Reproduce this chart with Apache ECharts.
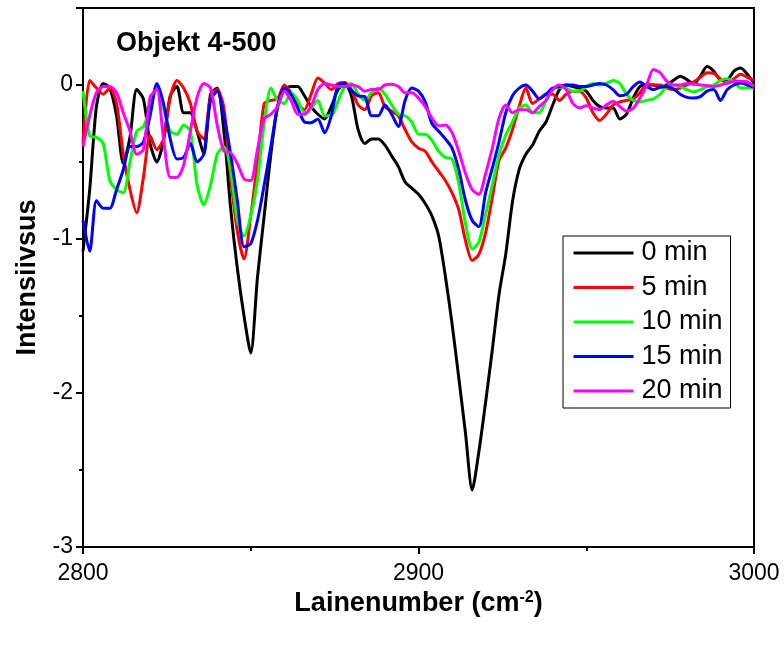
<!DOCTYPE html>
<html>
<head>
<meta charset="utf-8">
<script src="https://cdn.jsdelivr.net/npm/echarts@6/dist/echarts.min.js"></script>
<style>
  html, body { margin: 0; padding: 0; background: #fff; }
  #chart { width: 784px; height: 646px; }
</style>
</head>
<body>
<div id="chart"></div>
<script>
// wavenumber grid, cm-1
const wavenumbers = [
  2800, 2802, 2804, 2806, 2808, 2810, 2812, 2814, 2816, 2818,
  2820, 2822, 2824, 2826, 2828, 2830, 2832, 2834, 2836, 2838,
  2840, 2842, 2844, 2846, 2848, 2850, 2852, 2854, 2856, 2858,
  2860, 2862, 2864, 2866, 2868, 2870, 2872, 2874, 2876, 2878,
  2880, 2882, 2884, 2886, 2888, 2890, 2892, 2894, 2896, 2898,
  2900, 2902, 2904, 2906, 2908, 2910, 2912, 2914, 2916, 2918,
  2920, 2922, 2924, 2926, 2928, 2930, 2932, 2934, 2936, 2938,
  2940, 2942, 2944, 2946, 2948, 2950, 2952, 2954, 2956, 2958,
  2960, 2962, 2964, 2966, 2968, 2970, 2972, 2974, 2976, 2978,
  2980, 2982, 2984, 2986, 2988, 2990, 2992, 2994, 2996, 2998,
  3000
]

const min0 = [
  -1.08, -0.68, -0.14, 0.01, -0.02, -0.2, -0.51, -0.34, -0.03, -0.09,
  -0.38, -0.5, -0.36, -0.07, -0.01, -0.18, -0.18, -0.3, -0.45, -0.06,
  -0.02, -0.3, -0.8, -1.19, -1.5, -1.74, -1.25, -0.85, -0.45, -0.14,
  -0.03, -0.01, -0.01, -0.07, -0.14, -0.19, -0.22, -0.14, -0.03, 0.01,
  -0.07, -0.29, -0.38, -0.35, -0.35, -0.39, -0.46, -0.53, -0.63, -0.67,
  -0.71, -0.77, -0.85, -0.98, -1.24, -1.55, -1.9, -2.26, -2.63, -2.38,
  -2.06, -1.72, -1.36, -1.1, -0.76, -0.55, -0.45, -0.39, -0.3, -0.24,
  -0.13, -0.03, 0.0, -0.01, -0.02, -0.04, -0.1, -0.14, -0.15, -0.15,
  -0.22, -0.19, -0.085, -0.01, 0.0, 0.0, -0.015, 0.0, 0.03, 0.057,
  0.035, 0.007, 0.057, 0.12, 0.09, 0.035, 0.035, 0.09, 0.11, 0.07,
  0.013
]

const min5 = [
  -0.38, 0.03, -0.02, -0.06, -0.02, -0.12, -0.45, -0.68, -0.83, -0.6,
  -0.33, -0.42, -0.35, -0.08, 0.03, -0.02, -0.12, -0.3, -0.35, -0.08,
  -0.03, -0.15, -0.6, -0.95, -1.13, -0.85, -0.5, -0.12, -0.1, -0.09,
  0.0, -0.05, -0.12, -0.16, -0.06, 0.045, 0.013, -0.03, 0.01, 0.017,
  -0.03, -0.13, -0.16, -0.07, -0.05, -0.14, -0.17, -0.2, -0.29, -0.37,
  -0.41, -0.43, -0.5, -0.56, -0.62, -0.7, -0.81, -1.01, -1.14, -1.1,
  -0.96, -0.73, -0.49, -0.41, -0.29, -0.14, -0.02, -0.12, -0.09, -0.06,
  -0.06, -0.1, -0.06, -0.04, -0.04, -0.085, -0.18, -0.23, -0.19, -0.13,
  -0.11, -0.1, -0.09, -0.05, 0.0, 0.0, 0.0, -0.02, -0.03, -0.02,
  0.0, 0.02, 0.05, 0.08, 0.075, 0.04, 0.01, 0.04, 0.07, 0.05,
  0.03
]

const min10 = [
  -0.04, -0.33, -0.34, -0.38, -0.62, -0.68, -0.7, -0.5, -0.3, -0.27,
  -0.15, -0.02, -0.15, -0.3, -0.32, -0.26, -0.3, -0.65, -0.78, -0.65,
  -0.45, -0.4, -0.55, -0.88, -0.98, -0.85, -0.62, -0.25, -0.02, -0.1,
  -0.12, -0.05, -0.1, -0.18, -0.15, -0.1, -0.2, -0.2, -0.105, -0.01,
  0.01, -0.06, -0.1, -0.05, -0.02, -0.06, -0.13, -0.19, -0.2, -0.24,
  -0.32, -0.32, -0.36, -0.43, -0.47, -0.48, -0.64, -0.9, -1.065, -1.02,
  -0.84, -0.65, -0.455, -0.325, -0.24, -0.15, -0.13, -0.18, -0.18, -0.1,
  -0.03, -0.015, -0.02, -0.04, -0.04, -0.01, 0.01, 0.0, 0.01, 0.03,
  0.01, -0.06, -0.1, -0.11, -0.1, -0.09, -0.06, -0.01, 0.0, -0.01,
  -0.03, -0.045, -0.03, -0.01, 0.0, 0.03, 0.04, 0.02, -0.02, -0.02,
  -0.02
]

const min15 = [
  -0.88, -1.08, -0.75, -0.8, -0.8, -0.68, -0.55, -0.4, -0.4, -0.37,
  -0.2, 0.01, -0.12, -0.35, -0.48, -0.47, -0.38, -0.5, -0.45, -0.1,
  -0.04, -0.2, -0.45, -0.75, -1.05, -1.03, -0.88, -0.65, -0.4, -0.14,
  -0.02, -0.06, -0.15, -0.24, -0.245, -0.22, -0.31, -0.2, 0.0, 0.01,
  -0.035, -0.07, -0.075, -0.2, -0.2, -0.13, -0.19, -0.27, -0.1, -0.02,
  -0.04, -0.11, -0.25, -0.3, -0.35, -0.41, -0.55, -0.75, -0.88, -0.92,
  -0.7, -0.54, -0.37, -0.18, -0.07, -0.02, 0.0, -0.04, -0.09, -0.06,
  -0.02, -0.01, 0.0, 0.0, -0.01, -0.01, 0.0, 0.01, 0.0, -0.03,
  -0.07, -0.06, -0.01, 0.02, -0.01, -0.03, -0.015, -0.01, -0.025, -0.06,
  -0.08, -0.085, -0.075, -0.04, -0.03, -0.1, -0.03, 0.0, 0.013, 0.0,
  -0.015
]

const min20 = [
  -0.4, -0.2, -0.05, -0.01, -0.01, -0.05, -0.18, -0.3, -0.45, -0.42,
  -0.08, -0.03, -0.35, -0.6, -0.6, -0.52, -0.3, -0.08, 0.01, -0.02,
  -0.26, -0.43, -0.44, -0.51, -0.61, -0.62, -0.42, -0.22, -0.19, -0.14,
  -0.04, -0.1, -0.19, -0.19, -0.14, -0.03, 0.01, 0.0, -0.01, -0.01,
  0.0, -0.01, -0.04, -0.03, -0.03, 0.0, 0.005, -0.01, -0.05, -0.05,
  -0.085, -0.14, -0.215, -0.265, -0.26, -0.31, -0.43, -0.575, -0.68, -0.71,
  -0.575, -0.41, -0.215, -0.13, -0.18, -0.16, -0.16, -0.18, -0.14, -0.1,
  -0.03, 0.0, -0.03, -0.12, -0.15, -0.135, -0.15, -0.16, -0.13, -0.105,
  -0.14, -0.17, -0.15, -0.085, 0.0, 0.1, 0.08, 0.025, 0.0, 0.0,
  0.01, 0.007, 0.0, -0.003, -0.01, 0.0, 0.013, 0.024, 0.024, 0.02,
  -0.01
]

const seriesNames = ['0 min', '5 min', '10 min', '15 min', '20 min']
const seriesValues = [min0, min5, min10, min15, min20]
const seriesColors = ['#000000', '#ff0000', '#00ff00', '#0000ff', '#ff00ff']

const xTicks = { min: 2800, max: 3000, interval: 100 }
const yTicks = { min: -3, max: 0.5, interval: 1 }

const FONT = 'Arial, "Liberation Sans", sans-serif'

let chart = echarts.init(document.getElementById('chart'), null, { renderer: 'canvas' })

let option = {
  animation: false,
  backgroundColor: '#ffffff',
  title: {
    text: 'Objekt 4-500',
    left: 111,
    top: 25,
    textStyle: {
      fontFamily: FONT,
      fontSize: 27,
      fontWeight: 'bold',
      color: '#000'
    }
  },
  grid: {
    left: 83,
    right: 30,
    top: 8,
    bottom: 99,
    show: true,
    borderColor: '#000',
    borderWidth: 2,
    backgroundColor: 'transparent'
  },
  legend: {
    orient: 'vertical',
    left: 563,
    top: 236,
    itemWidth: 60,
    itemHeight: 20,
    itemGap: 6.5,
    padding: [3, 8, 3, 9],
    borderColor: '#000',
    borderWidth: 1,
    backgroundColor: '#fff',
    itemStyle: { opacity: 0 },
    lineStyle: { width: 3 },
    textStyle: {
      fontFamily: FONT,
      fontSize: 27,
      lineHeight: 28,
      color: '#000',
      padding: [0, 0, 0, 3]
    },
    data: seriesNames
  },
  xAxis: {
    type: 'value',
    min: xTicks.min,
    max: xTicks.max,
    interval: xTicks.interval,
    name: 'Lainenumber (cm{sup|-2})',
    nameLocation: 'middle',
    nameGap: 43,
    nameMoveOverlap: false,
    nameTextStyle: {
      fontFamily: FONT,
      fontSize: 27,
      fontWeight: 'bold',
      color: '#000',
      rich: {
        sup: {
          fontFamily: FONT,
          fontSize: 16,
          fontWeight: 'bold',
          color: '#000',
          verticalAlign: 'top',
          padding: [0, 0, 11, 0]
        }
      }
    },
    axisLine: { onZero: false, lineStyle: { color: '#000', width: 2 } },
    axisTick: { inside: false, length: 7, lineStyle: { color: '#000', width: 2 } },
    minorTick: { show: true, splitNumber: 2, length: 4, lineStyle: { color: '#000', width: 2 } },
    splitLine: { show: false },
    axisLabel: {
      fontFamily: FONT,
      fontSize: 23,
      color: '#000',
      margin: 15,
      formatter: (v) => String(v)
    }
  },
  yAxis: {
    type: 'value',
    min: yTicks.min,
    max: yTicks.max,
    interval: yTicks.interval,
    name: 'Intensiivsus',
    nameLocation: 'middle',
    nameGap: 42,
    nameTextStyle: {
      fontFamily: FONT,
      fontSize: 27,
      fontWeight: 'bold',
      color: '#000'
    },
    axisLine: { onZero: false, lineStyle: { color: '#000', width: 2 } },
    axisTick: { inside: false, length: 7, lineStyle: { color: '#000', width: 2 } },
    minorTick: { show: true, splitNumber: 2, length: 4, lineStyle: { color: '#000', width: 2 } },
    splitLine: { show: false },
    axisLabel: {
      fontFamily: FONT,
      fontSize: 23,
      color: '#000',
      margin: 10,
      showMaxLabel: false,
      formatter: (v) => String(v)
    }
  },
  series: seriesNames.map((name, k) => ({
    name: name,
    type: 'line',
    showSymbol: false,
    symbol: 'none',
    smooth: 0.25,
    color: seriesColors[k],
    lineStyle: { width: 3, color: seriesColors[k] },
    data: wavenumbers.map((x, i) => [x, seriesValues[k][i]])
  }))
}

chart.setOption(option)
</script>
</body>
</html>
